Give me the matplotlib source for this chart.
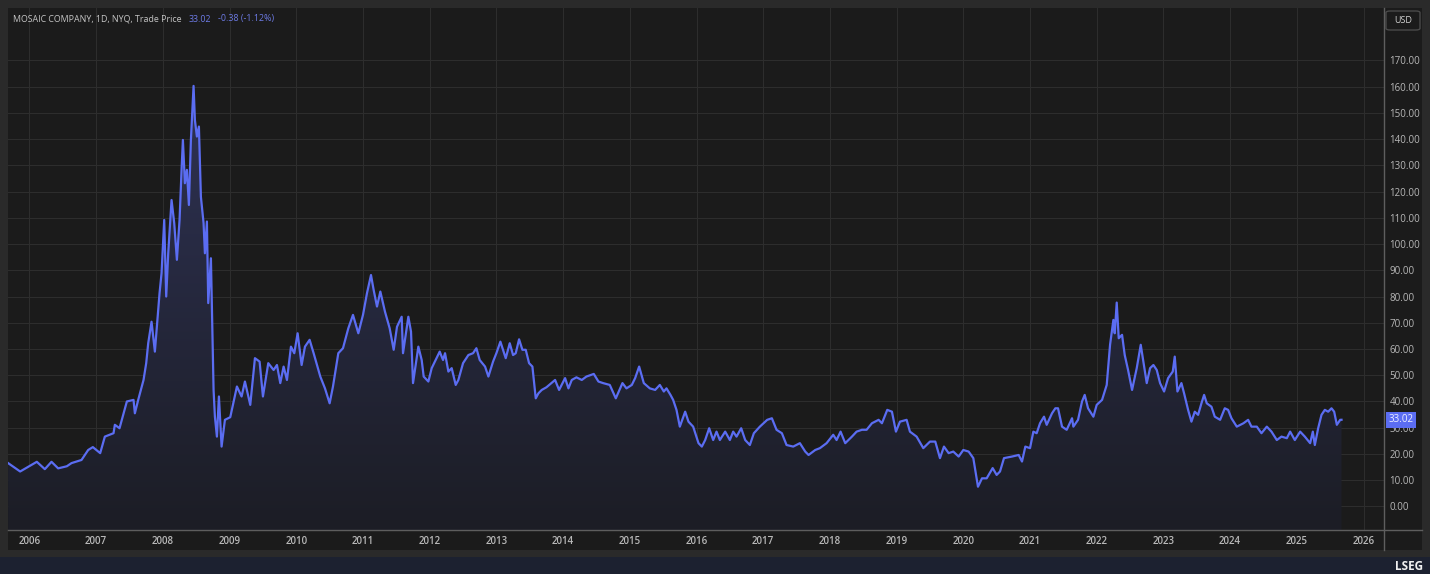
import numpy as np
import matplotlib
matplotlib.use('Agg')
import matplotlib.pyplot as plt
from matplotlib.patches import Polygon, Rectangle, FancyBboxPatch
from matplotlib.colors import LinearSegmentedColormap
from matplotlib.lines import Line2D

plt.rcParams['font.family'] = ['Open Sans', 'DejaVu Sans']

# MOSAIC daily trade price, sampled off the chart (fractional year, USD)
t_year = [
    2005.68, 2005.86, 2006.03, 2006.11, 2006.23, 2006.33, 2006.43, 2006.56, 2006.63, 2006.78,
    2006.88, 2006.95, 2007.06, 2007.13, 2007.26, 2007.28, 2007.35, 2007.46, 2007.56, 2007.58,
    2007.63, 2007.71, 2007.75, 2007.78, 2007.83, 2007.88, 2007.91, 2007.95, 2007.98, 2008.02,
    2008.05, 2008.08, 2008.13, 2008.17, 2008.21, 2008.25, 2008.28, 2008.30, 2008.33, 2008.36,
    2008.39, 2008.42, 2008.46, 2008.48, 2008.51, 2008.54, 2008.57, 2008.61, 2008.63, 2008.66,
    2008.68, 2008.72, 2008.74, 2008.76, 2008.78, 2008.81, 2008.84, 2008.88, 2008.93, 2009.01,
    2009.11, 2009.18, 2009.23, 2009.31, 2009.38, 2009.45, 2009.50, 2009.58, 2009.66, 2009.71,
    2009.76, 2009.81, 2009.86, 2009.92, 2009.97, 2010.02, 2010.08, 2010.13, 2010.20, 2010.26,
    2010.36, 2010.43, 2010.50, 2010.55, 2010.63, 2010.70, 2010.78, 2010.85, 2010.93, 2011.00,
    2011.06, 2011.12, 2011.16, 2011.21, 2011.26, 2011.33, 2011.40, 2011.46, 2011.51, 2011.58,
    2011.60, 2011.68, 2011.72, 2011.75, 2011.83, 2011.88, 2011.91, 2011.98, 2012.03, 2012.15,
    2012.20, 2012.23, 2012.28, 2012.33, 2012.39, 2012.43, 2012.50, 2012.58, 2012.65, 2012.70,
    2012.75, 2012.83, 2012.88, 2012.95, 2013.00, 2013.06, 2013.10, 2013.14, 2013.20, 2013.25,
    2013.29, 2013.34, 2013.39, 2013.44, 2013.49, 2013.54, 2013.59, 2013.63, 2013.68, 2013.75,
    2013.88, 2013.94, 2014.03, 2014.08, 2014.13, 2014.20, 2014.28, 2014.35, 2014.46, 2014.53,
    2014.60, 2014.70, 2014.79, 2014.89, 2014.95, 2015.03, 2015.08, 2015.14, 2015.21, 2015.30,
    2015.38, 2015.45, 2015.51, 2015.55, 2015.61, 2015.65, 2015.70, 2015.75, 2015.83, 2015.88,
    2015.95, 2016.03, 2016.08, 2016.13, 2016.19, 2016.25, 2016.30, 2016.35, 2016.43, 2016.50,
    2016.55, 2016.60, 2016.67, 2016.73, 2016.80, 2016.86, 2016.95, 2017.06, 2017.13, 2017.20,
    2017.28, 2017.35, 2017.45, 2017.55, 2017.63, 2017.68, 2017.78, 2017.85, 2017.95, 2018.05,
    2018.10, 2018.16, 2018.23, 2018.33, 2018.40, 2018.48, 2018.55, 2018.63, 2018.73, 2018.78,
    2018.86, 2018.93, 2018.99, 2019.05, 2019.15, 2019.20, 2019.30, 2019.40, 2019.50, 2019.58,
    2019.65, 2019.71, 2019.78, 2019.85, 2019.93, 2020.00, 2020.08, 2020.15, 2020.22, 2020.28,
    2020.35, 2020.44, 2020.50, 2020.55, 2020.61, 2020.73, 2020.83, 2020.88, 2020.93, 2021.00,
    2021.05, 2021.10, 2021.15, 2021.21, 2021.25, 2021.33, 2021.38, 2021.42, 2021.48, 2021.55,
    2021.63, 2021.65, 2021.72, 2021.78, 2021.82, 2021.87, 2021.95, 2022.00, 2022.08, 2022.15,
    2022.20, 2022.25, 2022.27, 2022.30, 2022.33, 2022.38, 2022.42, 2022.47, 2022.53, 2022.60,
    2022.66, 2022.70, 2022.75, 2022.80, 2022.85, 2022.90, 2022.95, 2023.01, 2023.07, 2023.14,
    2023.17, 2023.21, 2023.27, 2023.31, 2023.37, 2023.42, 2023.47, 2023.52, 2023.57, 2023.61,
    2023.65, 2023.72, 2023.77, 2023.85, 2023.92, 2023.97, 2024.02, 2024.10, 2024.20, 2024.27,
    2024.32, 2024.40, 2024.47, 2024.55, 2024.62, 2024.70, 2024.77, 2024.85, 2024.90, 2024.97,
    2025.05, 2025.12, 2025.20, 2025.24, 2025.27, 2025.32, 2025.37, 2025.42, 2025.47, 2025.52,
    2025.56, 2025.60, 2025.65, 2025.67,
]
price = [
    16.5, 13.3, 15.8, 17.0, 14.2, 17.0, 14.5, 15.3, 16.5, 17.7,
    21.5, 22.6, 20.3, 26.6, 27.9, 31.1, 29.8, 40.0, 40.6, 35.5,
    40.6, 48.2, 54.6, 62.2, 70.4, 59.0, 68.5, 81.3, 88.9, 109.2,
    80.0, 96.5, 116.8, 108.0, 94.0, 109.2, 128.3, 139.7, 123.2, 128.3,
    114.9, 139.7, 160.3, 147.3, 141.0, 144.8, 118.0, 108.0, 96.5, 108.6,
    77.5, 94.6, 68.5, 44.4, 34.2, 26.6, 41.9, 22.8, 33.0, 34.0,
    45.7, 41.9, 47.6, 38.7, 56.5, 55.2, 41.9, 54.6, 52.0, 53.9,
    47.0, 53.3, 48.2, 60.9, 58.4, 66.0, 53.9, 60.9, 63.5, 58.4,
    49.5, 45.0, 39.3, 45.7, 58.4, 60.3, 67.9, 73.0, 66.0, 73.0,
    81.3, 88.2, 82.5, 76.2, 81.9, 74.2, 67.9, 59.7, 68.5, 72.3,
    58.4, 72.3, 66.6, 47.0, 60.9, 55.8, 49.5, 47.6, 52.7, 59.0,
    55.8, 58.4, 51.4, 52.7, 46.3, 48.2, 54.6, 57.7, 58.4, 60.3,
    55.8, 53.3, 49.5, 55.2, 58.4, 62.8, 59.7, 56.5, 62.2, 57.7,
    58.4, 63.7, 59.7, 59.7, 54.6, 53.3, 41.2, 43.1, 44.4, 45.4,
    48.2, 44.4, 48.9, 45.0, 48.2, 49.2, 48.2, 49.5, 50.5, 47.6,
    47.0, 46.3, 41.2, 47.0, 45.0, 46.3, 48.9, 53.3, 47.0, 45.0,
    44.4, 46.3, 43.8, 45.0, 42.5, 40.6, 36.8, 30.4, 36.1, 32.3,
    30.4, 24.1, 22.8, 25.3, 29.8, 25.3, 28.5, 25.3, 28.5, 25.3,
    28.5, 26.6, 29.8, 25.3, 23.4, 27.9, 30.4, 33.0, 33.6, 29.2,
    27.9, 23.4, 22.8, 24.1, 20.9, 19.6, 21.5, 22.2, 24.1, 27.3,
    25.3, 28.5, 24.1, 26.6, 28.5, 29.2, 29.2, 31.7, 33.0, 31.7,
    36.8, 36.1, 28.5, 32.3, 33.0, 28.5, 26.6, 22.2, 24.7, 24.7,
    18.4, 22.8, 20.3, 20.9, 19.0, 21.5, 20.9, 18.4, 7.5, 10.7,
    10.7, 14.6, 12.0, 13.3, 18.4, 19.0, 19.6, 17.1, 22.8, 22.2,
    28.5, 27.9, 31.7, 34.2, 31.1, 35.5, 37.4, 37.4, 30.4, 29.2,
    33.6, 30.4, 33.0, 40.0, 42.5, 37.4, 34.2, 38.7, 40.6, 46.3,
    61.6, 71.1, 66.0, 77.7, 64.1, 65.4, 57.7, 52.0, 44.4, 52.7,
    61.6, 55.2, 47.0, 52.7, 53.9, 52.0, 47.0, 43.8, 48.9, 51.4,
    57.1, 43.8, 47.0, 43.1, 36.8, 32.3, 36.1, 34.9, 39.3, 42.5,
    39.3, 38.0, 34.2, 33.0, 37.4, 36.8, 33.6, 30.4, 31.7, 33.0,
    30.4, 30.4, 27.9, 30.4, 28.5, 25.3, 26.6, 26.0, 28.5, 25.3,
    28.5, 26.6, 24.1, 28.5, 23.4, 29.8, 34.9, 36.8, 36.1, 37.4,
    36.1, 31.1, 33.0, 33.02,
]
year_ticks = list(range(2006, 2027))
price_ticks = list(range(0, 180, 10))
last_price = 33.02
change = '-0.38 (-1.12%)'
title = 'MOSAIC COMPANY, 1D, NYQ, Trade Price'

W, H = 1430, 574
BG_OUT = '#2a2a2a'
BG_PLOT = '#1b1b1b'
GRID = '#2d2d2d'
LINE = '#5b6df2'
AXLINE = '#5e5e5e'
TXT = '#b8b8b8'


def px(x, y):
    return x / W, 1 - y / H


fig = plt.figure(figsize=(W / 100, H / 100), dpi=100, facecolor=BG_OUT)

# panel backgrounds (plot + right/bottom scale areas)
x0, y0 = px(8, 550)
fig.add_artist(Rectangle((x0, y0), (1422 - 8) / W, (550 - 8) / H,
                         transform=fig.transFigure, facecolor=BG_PLOT, edgecolor='none', zorder=0))
fig.add_artist(Rectangle((0, 0), 1, 17 / H, transform=fig.transFigure,
                         facecolor='#1c2130', edgecolor='none', zorder=0))

l, b = px(8, 530)
r, t = px(1384, 8)
ax = fig.add_axes([l, b, r - l, t - b])
ax.set_facecolor(BG_PLOT)

ymin, ymax = -9, 190
xmin, xmax = 2005.678, 2026.307

# gradient area under the price line
verts = [(t_year[0], ymin)] + list(zip(t_year, price)) + [(t_year[-1], ymin)]
clip = Polygon(verts, closed=True, facecolor='none', edgecolor='none')
ax.add_patch(clip)
cmap = LinearSegmentedColormap.from_list('area', ['#1c1d25', '#2e3254'])
grad = np.linspace(0, 1, 256).reshape(-1, 1)
im = ax.imshow(grad, extent=[t_year[0], t_year[-1], ymin, max(price)], origin='lower',
               aspect='auto', cmap=cmap, zorder=1, interpolation='bilinear')
im.set_clip_path(clip)

ax.plot(t_year, price, color=LINE, linewidth=1.6, zorder=3)

ax.set_xlim(xmin, xmax)
ax.set_ylim(ymin, ymax)
ax.set_xticks(year_ticks)
ax.set_xticklabels([str(y) for y in year_ticks])
ax.set_yticks(price_ticks)
ax.set_yticklabels([f'{v:.2f}' for v in price_ticks])
ax.yaxis.tick_right()
ax.tick_params(axis='y', length=0, pad=4, labelsize=7, colors=TXT)
ax.tick_params(axis='x', length=0, pad=4, labelsize=7, colors=TXT)
for lab in ax.get_xticklabels():
    lab.set_fontweight('semibold')
ax.grid(True, color=GRID, linewidth=0.8)
ax.set_axisbelow(True)
for s in ax.spines.values():
    s.set_visible(False)

# scale separator lines
fig.add_artist(Line2D([1384 / W, 1384 / W], [px(0, 550)[1], px(0, 8)[1]],
                      transform=fig.transFigure, color=AXLINE, linewidth=1))
fig.add_artist(Line2D([8 / W, 1422 / W], [px(0, 530)[1]] * 2,
                      transform=fig.transFigure, color=AXLINE, linewidth=1))

# last price tag
ax.annotate(f'{last_price:.2f}', xy=(1, last_price), xycoords=('axes fraction', 'data'),
            xytext=(3, 0), textcoords='offset points', ha='left', va='center',
            fontsize=7, color='#eef0ff',
            bbox=dict(boxstyle='square,pad=0.25', facecolor=LINE, edgecolor='none'),
            annotation_clip=False)

# header: grey title, then blue price and change placed right after it
renderer = fig.canvas.get_renderer()
t1 = fig.text(*px(13, 19), title, color='#c4c4c4', fontsize=6.4, ha='left', va='center')
x_next = t1.get_window_extent(renderer).x1 / W + 7 / W
t2 = fig.text(x_next, px(0, 19)[1], f'{last_price:.2f}', color='#6d7be6', fontsize=6.4,
              ha='left', va='center')
x_next = t2.get_window_extent(renderer).x1 / W + 7 / W
fig.text(x_next, px(0, 19)[1], change, color='#6d7be6', fontsize=6.4, ha='left', va='center')

# currency box
bx, by = px(1386, 30)
fig.add_artist(FancyBboxPatch((bx, by), 34 / W, 19 / H, boxstyle='round,pad=0,rounding_size=0.003',
                              transform=fig.transFigure, facecolor=BG_PLOT, edgecolor='#4a4a4a',
                              linewidth=1))
fig.text(*px(1403, 20.5), 'USD', color='#d0d0d0', fontsize=6.5, ha='center', va='center')

# footer brand
fig.text(*px(1423, 566), 'LSEG', color='#f0f0f0', fontsize=8.5, fontweight='bold',
         ha='right', va='center')

fig.savefig('out.png', dpi=100, facecolor=BG_OUT)
